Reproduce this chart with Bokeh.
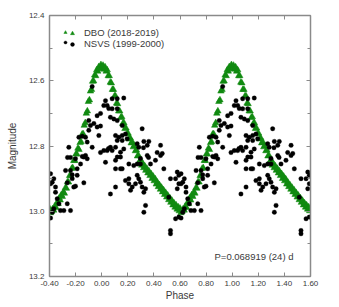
from bokeh.plotting import figure
from bokeh.models import (Range1d, LinearAxis, Legend, LegendItem, Label,
                          FixedTicker, NumeralTickFormatter, CustomJSTickFormatter,
                          ColumnDataSource)
from bokeh.embed import file_html
from bokeh.resources import INLINE

# ---- data (one folded cycle each; the chart repeats the cycle at phase + 1) ----
dbo_phase = [-0.400, -0.392, -0.385, -0.376, -0.368, -0.360, -0.350, -0.342, -0.334, -0.326,
             -0.318, -0.310, -0.302, -0.294, -0.286, -0.278, -0.270, -0.262, -0.254, -0.246,
             -0.238, -0.230, -0.222, -0.214, -0.206, -0.198, -0.190, -0.182, -0.174, -0.166,
             -0.158, -0.150, -0.142, -0.134, -0.126, -0.118, -0.110, -0.102, -0.094, -0.086,
             -0.078, -0.070, -0.062, -0.054, -0.046, -0.038, -0.030, -0.022, -0.014, -0.006,
             0.002, 0.010, 0.018, 0.026, 0.034, 0.042, 0.050, 0.058, 0.066, 0.074,
             0.082, 0.090, 0.098, 0.106, 0.114, 0.122, 0.130, 0.138, 0.146, 0.154,
             0.162, 0.170, 0.178, 0.186, 0.194, 0.202, 0.210, 0.218, 0.226, 0.234,
             0.242, 0.250, 0.258, 0.266, 0.274, 0.282, 0.290, 0.298, 0.306, 0.314,
             0.322, 0.330, 0.338, 0.346, 0.354, 0.362, 0.370, 0.378, 0.386, 0.394,
             0.402, 0.410, 0.418, 0.426, 0.434, 0.442, 0.450, 0.458, 0.466, 0.474,
             0.482, 0.490, 0.498, 0.506, 0.514, 0.522, 0.530, 0.538, 0.546, 0.554,
             0.562, 0.570, 0.578, 0.586, 0.594]
dbo_mag = [12.991, 13.005, 13.001, 12.993, 12.997, 12.985, 12.989, 12.973, 12.977, 12.960,
           12.966, 12.950, 12.955, 12.941, 12.945, 12.928, 12.930, 12.910, 12.911, 12.891,
           12.891, 12.869, 12.867, 12.845, 12.845, 12.825, 12.825, 12.807, 12.811, 12.790,
           12.787, 12.764, 12.763, 12.737, 12.729, 12.700, 12.693, 12.664, 12.659, 12.632,
           12.627, 12.602, 12.601, 12.583, 12.585, 12.567, 12.571, 12.557, 12.563, 12.551,
           12.562, 12.553, 12.565, 12.558, 12.571, 12.567, 12.585, 12.585, 12.605, 12.607,
           12.627, 12.627, 12.647, 12.647, 12.669, 12.671, 12.693, 12.693, 12.713, 12.711,
           12.731, 12.729, 12.747, 12.745, 12.763, 12.761, 12.779, 12.775, 12.791, 12.787,
           12.803, 12.799, 12.815, 12.813, 12.831, 12.829, 12.847, 12.843, 12.859, 12.853,
           12.867, 12.861, 12.875, 12.869, 12.883, 12.877, 12.891, 12.885, 12.900, 12.893,
           12.907, 12.901, 12.917, 12.911, 12.925, 12.919, 12.933, 12.927, 12.941, 12.935,
           12.949, 12.943, 12.957, 12.951, 12.965, 12.959, 12.973, 12.967, 12.981, 12.975,
           12.988, 12.981, 12.994, 12.987, 12.999]

nsvs_phase = [-0.073, 0.029, 0.016, 0.042, 0.080, 0.054, -0.035, -0.009, -0.099, -0.086,
              -0.060, -0.099, -0.035, -0.009, -0.124, -0.175, -0.149, -0.111, -0.022, -0.252,
              0.169, 0.119, 0.080, 0.119, 0.067, 0.093, 0.119, 0.157, 0.106, 0.131,
              0.157, 0.182, 0.119, 0.157, 0.195, 0.310, 0.323, 0.361, 0.349, 0.451,
              0.272, 0.284, 0.106, 0.169, 0.052, 0.080, -0.009, 0.016, 0.042, 0.067,
              -0.073, -0.262, -0.239, -0.149, -0.124, 0.320, 0.425, 0.451, 0.464, 0.297,
              0.359, -0.201, -0.111, -0.277, -0.239, -0.188, -0.392, -0.367, -0.379, -0.226,
              -0.226, -0.137, -0.264, -0.201, -0.354, -0.341, -0.264, -0.316, -0.290, -0.239,
              -0.379, -0.392, 0.029, 0.067, 0.106, 0.106, -0.392, -0.354, -0.328, -0.367,
              -0.162, -0.188, -0.214, 0.144, 0.182, 0.208, 0.208, 0.221, 0.246, 0.272,
              0.272, 0.284, 0.297, 0.310, 0.323, 0.336, 0.323, 0.119, 0.144, 0.144,
              0.208, 0.297, 0.106, 0.157, 0.349, 0.374, 0.412, 0.259, 0.234, 0.336,
              0.476, 0.527, 0.566, 0.579, 0.591, 0.591, 0.579, 0.514, 0.566, 0.591,
              0.527, 0.527, -0.137]
nsvs_mag = [12.618, 12.661, 12.676, 12.676, 12.655, 12.685, 12.707, 12.700, 12.722, 12.737,
            12.731, 12.752, 12.742, 12.739, 12.773, 12.773, 12.770, 12.788, 12.768, 12.804,
            12.653, 12.655, 12.686, 12.686, 12.712, 12.717, 12.722, 12.737, 12.768, 12.773,
            12.768, 12.763, 12.783, 12.783, 12.778, 12.747, 12.786, 12.786, 12.798, 12.798,
            12.793, 12.804, 12.804, 12.809, 12.808, 12.814, 12.820, 12.814, 12.814, 12.804,
            12.804, 12.835, 12.835, 12.832, 12.829, 12.805, 12.820, 12.829, 12.823, 12.838,
            12.835, 12.839, 12.839, 12.875, 12.875, 12.870, 12.885, 12.900, 12.911, 12.888,
            12.900, 12.913, 12.913, 12.923, 12.942, 12.962, 12.977, 12.998, 12.998, 12.998,
            13.003, 13.021, 12.850, 12.947, 12.844, 12.926, 12.916, 12.926, 12.977, 12.992,
            12.855, 12.890, 12.926, 12.870, 12.906, 12.900, 12.916, 12.936, 12.860, 12.855,
            12.890, 12.900, 12.911, 12.926, 12.942, 12.982, 13.003, 12.834, 12.819, 12.834,
            12.855, 12.855, 12.870, 12.870, 12.829, 12.855, 12.844, 12.916, 12.926, 12.931,
            12.870, 12.900, 12.900, 12.880, 12.890, 12.916, 12.931, 12.957, 13.023, 13.018,
            13.059, 13.069, 12.834]

x_ticks = [-0.4, -0.2, 0.0, 0.2, 0.4, 0.6, 0.8, 1.0, 1.2, 1.4, 1.6]
y_ticks = [12.4, 12.6, 12.8, 13.0, 13.2]
y_minor = [12.5, 12.7, 12.9, 13.1]

series_labels = ["DBO (2018-2019)", "NSVS (1999-2000)"]
period_text = "P=0.068919 (24) d"

# ---- figure ----
FONT = "Liberation Sans"
AX = "#8a8a8a"
TXT = "#3a3a3a"
GREEN = "#118a11"

p = figure(width=339, height=307, output_backend="svg", toolbar_location=None,
           x_range=Range1d(-0.4, 1.6), y_range=Range1d(13.2, 12.4),
           min_border_left=49, min_border_right=29, min_border_top=15, min_border_bottom=31,
           background_fill_color="white", border_fill_color="white")
p.outline_line_color = AX
p.outline_line_width = 1
p.xgrid.visible = False
p.ygrid.visible = False

dbo_src = ColumnDataSource(dict(x=dbo_phase + [v + 1 for v in dbo_phase], y=dbo_mag + dbo_mag))
nsvs_src = ColumnDataSource(dict(x=nsvs_phase + [v + 1 for v in nsvs_phase], y=nsvs_mag + nsvs_mag))

r_dbo = p.scatter("x", "y", source=dbo_src, marker="triangle", size=6.5,
                  fill_color=GREEN, line_color=GREEN, line_width=0.5)
r_nsvs = p.scatter("x", "y", source=nsvs_src, marker="circle", size=4.5,
                   fill_color="black", line_color="black", line_width=0.3)

def style_axis(ax, labels=True):
    ax.axis_line_color = AX
    ax.axis_line_width = 1.5
    ax.major_tick_line_color = AX
    ax.minor_tick_line_color = AX
    ax.major_tick_in = 4
    ax.major_tick_out = 0
    ax.minor_tick_in = 3
    ax.minor_tick_out = 0
    ax.major_label_text_font = FONT
    ax.major_label_text_font_size = "8px"
    ax.major_label_text_color = TXT
    ax.axis_label_text_font = FONT
    ax.axis_label_text_font_size = "10px"
    ax.axis_label_text_font_style = "normal"
    ax.axis_label_text_color = TXT
    if not labels:
        ax.formatter = CustomJSTickFormatter(code="return ''")
        ax.major_label_standoff = 0

xa = p.xaxis[0]
xa.ticker = FixedTicker(ticks=x_ticks)
xa.formatter = NumeralTickFormatter(format="0.00")
xa.axis_label = "Phase"
style_axis(xa)
xa.major_label_standoff = 4
xa.axis_label_standoff = 1

ya = p.yaxis[0]
ya.ticker = FixedTicker(ticks=y_ticks, minor_ticks=y_minor)
ya.formatter = NumeralTickFormatter(format="0.0")
ya.axis_label = "Magnitude"
style_axis(ya)
ya.major_label_standoff = 5
ya.axis_label_standoff = 8

top = LinearAxis(ticker=FixedTicker(ticks=x_ticks))
style_axis(top, labels=False)
p.add_layout(top, "above")
right = LinearAxis(ticker=FixedTicker(ticks=y_ticks, minor_ticks=y_minor))
style_axis(right, labels=False)
p.add_layout(right, "right")

# legend: two markers per entry, drawn by two overlapping legends
def make_legend(glyph_width, margin, texts, alpha):
    lg = Legend(items=[LegendItem(label=texts[0], renderers=[r_dbo]),
                       LegendItem(label=texts[1], renderers=[r_nsvs])],
                location="top_left", glyph_width=glyph_width, glyph_height=10,
                label_height=10, spacing=0, padding=5, margin=margin,
                label_standoff=1, border_line_alpha=0, background_fill_alpha=0,
                label_text_font=FONT, label_text_font_size="9.5px",
                label_text_color=TXT, label_text_alpha=alpha)
    return lg

p.add_layout(make_legend(8, 7, [" ", " "], 0.0))
p.add_layout(make_legend(22, 7, series_labels, 1.0))

p.add_layout(Label(x=165, y=20, x_units="screen", y_units="screen", text=period_text,
                   text_font=FONT, text_font_size="9.5px", text_color=TXT,
                   text_baseline="middle", text_align="left"))

open("out.html", "w").write(file_html(p, INLINE))
